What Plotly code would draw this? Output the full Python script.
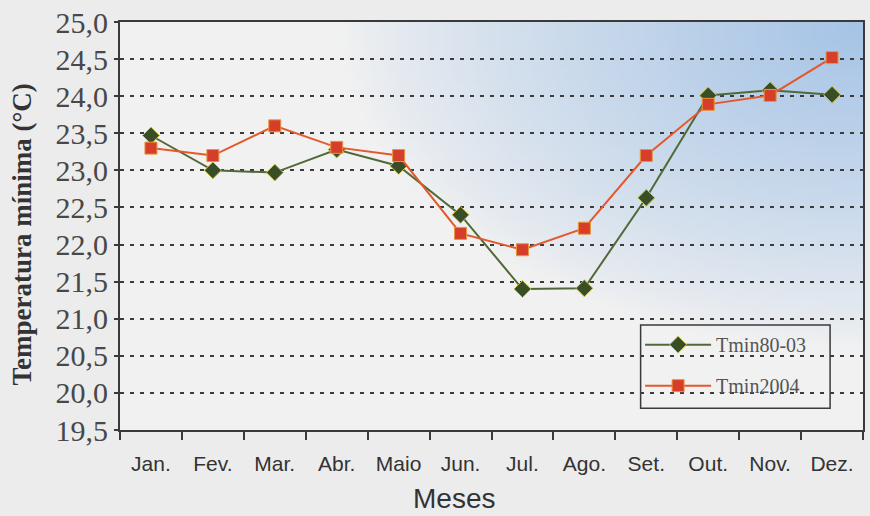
import base64
import struct
import zlib

import plotly.graph_objects as go

# ---------------- data ----------------
months = ["Jan.", "Fev.", "Mar.", "Abr.", "Maio", "Jun.", "Jul.", "Ago.", "Set.", "Out.", "Nov.", "Dez."]
tmin_80_03 = [23.47, 23.00, 22.97, 23.28, 23.06, 22.40, 21.40, 21.41, 22.63, 24.01, 24.08, 24.02]
tmin_2004 = [23.30, 23.20, 23.60, 23.31, 23.20, 22.15, 21.93, 22.22, 23.20, 23.89, 24.01, 24.52]
y_ticks = [19.5, 20.0, 20.5, 21.0, 21.5, 22.0, 22.5, 23.0, 23.5, 24.0, 24.5, 25.0]
x_title = "Meses"
y_title = "Temperatura mínima (°C)"


# ------------- gradient background image (plot area decoration) -------------
def gradient_png(w, h):
    base = (241, 241, 241)
    blue = (166, 196, 230)
    rows = []
    for j in range(h):
        v = j / (h - 1)
        row = bytearray([0])
        for i in range(w):
            u = i / (w - 1)
            d = (((1 - u) / 0.7) ** 2 + (v / 0.8) ** 2) ** 0.5
            t = max(0.0, 1 - d) ** 0.8
            for k in range(3):
                row.append(int(round(base[k] + (blue[k] - base[k]) * t)))
        rows.append(bytes(row))
    raw = b"".join(rows)

    def chunk(tag, data):
        c = struct.pack(">I", len(data)) + tag + data
        return c + struct.pack(">I", zlib.crc32(tag + data) & 0xFFFFFFFF)

    png = b"\x89PNG\r\n\x1a\n"
    png += chunk(b"IHDR", struct.pack(">IIBBBBB", w, h, 8, 2, 0, 0, 0))
    png += chunk(b"IDAT", zlib.compress(raw, 9))
    png += chunk(b"IEND", b"")
    return "data:image/png;base64," + base64.b64encode(png).decode()


bg_img = gradient_png(120, 80)

# ---------------- figure ----------------
fig = go.Figure()

fig.add_trace(go.Scatter(
    x=months, y=tmin_80_03, name="Tmin80-03", mode="lines+markers",
    line=dict(color="rgb(80,105,55)", width=2),
    marker=dict(symbol="diamond", size=13, color="rgb(55,78,38)",
                line=dict(color="rgb(200,190,80)", width=1)),
    legendgroup="a",
))
fig.add_trace(go.Scatter(
    x=months, y=tmin_2004, name="Tmin2004", mode="lines+markers",
    line=dict(color="rgb(228,88,45)", width=2),
    marker=dict(symbol="square", size=12, color="rgb(214,62,42)",
                line=dict(color="rgb(230,150,60)", width=1)),
    legendgroup="b",
))

serif = "Liberation Serif, Times New Roman, serif"
sans = "Liberation Sans, Arial, sans-serif"

fig.update_layout(
    width=870, height=516,
    margin=dict(l=120, r=5, t=18, b=86),
    paper_bgcolor="#ececec",
    plot_bgcolor="rgba(0,0,0,0)",
    separators=",.",
    showlegend=True,
    legend=dict(
        x=0.70, y=0.257, xanchor="left", yanchor="top",
        bgcolor="rgba(0,0,0,0)", borderwidth=0,
        font=dict(family=serif, size=20, color="#555555"),
        traceorder="grouped", tracegroupgap=12,
        itemwidth=66,
    ),
    shapes=[dict(
        type="rect", xref="paper", yref="paper",
        x0=0.7007, x1=0.9557, y0=0.0534, y1=0.2573,
        line=dict(color="#3a3a3a", width=1.5), fillcolor="rgba(0,0,0,0)",
        layer="above",
    )],
    images=[dict(
        source=bg_img, xref="paper", yref="paper", x=0, y=1,
        sizex=1, sizey=1, sizing="stretch", layer="below",
        xanchor="left", yanchor="top",
    )],
    annotations=[
        dict(text=x_title, xref="paper", yref="paper", x=0.45, y=-0.168,
             xanchor="center", yanchor="middle", showarrow=False,
             font=dict(family=sans, size=28, color="#333333")),
        dict(text=y_title, xref="paper", yref="paper", x=-0.1315, y=0.48,
             xanchor="center", yanchor="middle", showarrow=False, textangle=-90,
             font=dict(family=serif, size=27, color="#333333", weight="bold")),
    ],
    xaxis=dict(
        type="category",
        range=[-0.5, 11.5],
        tickson="boundaries",
        ticks="outside", ticklen=8, tickwidth=2, tickcolor="#3a3a3a",
        showline=True, linecolor="#3a3a3a", linewidth=2, mirror=True,
        showgrid=False,
        tickfont=dict(family=sans, size=21, color="#333333"),
        ticklabelstandoff=14,
    ),
    yaxis=dict(
        range=[19.5, 25.0],
        tickvals=y_ticks,
        tickformat=".1f",
        ticks="outside", ticklen=4, tickwidth=2, tickcolor="#3a3a3a",
        showline=True, linecolor="#3a3a3a", linewidth=2, mirror=True,
        showgrid=True, gridcolor="#3c3c3c", gridwidth=1.5, griddash="4px,6px",
        zeroline=False,
        tickfont=dict(family=serif, size=30, color="#484848"),
        ticklabelstandoff=0,
    ),
)

fig.write_html("out.html", config={"displayModeBar": False},
               post_script="document.body.style.margin='0';")
